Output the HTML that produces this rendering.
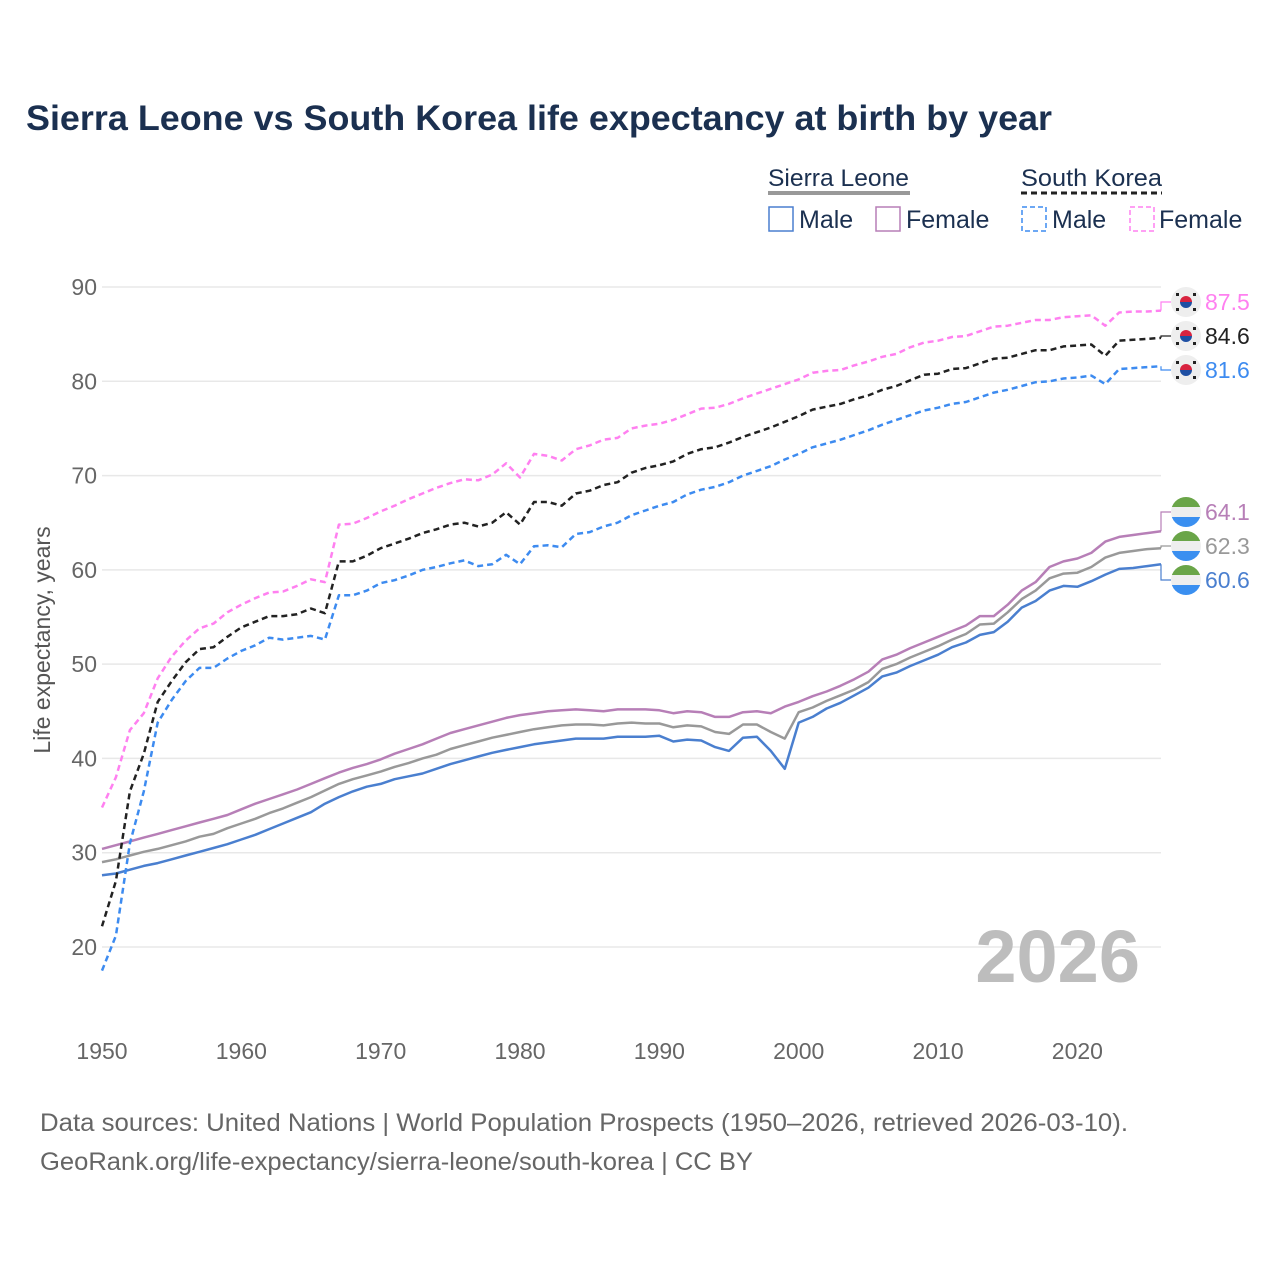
<!DOCTYPE html>
<html><head><meta charset="utf-8">
<style>
body{margin:0;background:#fff;}
svg text{font-family:"Liberation Sans",sans-serif;}
</style></head>
<body>
<svg id="chart" width="1280" height="1280" viewBox="0 0 1280 1280" xmlns="http://www.w3.org/2000/svg">
<text x="26" y="130" font-size="35.5" font-weight="bold" fill="#1b3050" textLength="1026" lengthAdjust="spacingAndGlyphs">Sierra Leone vs South Korea life expectancy at birth by year</text>
<g>
<text x="768" y="186" font-size="24" fill="#1b3050" textLength="141" lengthAdjust="spacingAndGlyphs">Sierra Leone</text>
<line x1="768" y1="193" x2="910" y2="193" stroke="#999" stroke-width="4"/>
<text x="1021" y="186" font-size="24" fill="#1b3050" textLength="141" lengthAdjust="spacingAndGlyphs">South Korea</text>
<line x1="1021" y1="193" x2="1162" y2="193" stroke="#222" stroke-width="3" stroke-dasharray="6,4"/>
<rect x="769" y="207" width="24" height="24" fill="none" stroke="#4a7fcf" stroke-width="1.5"/>
<text x="799" y="228" font-size="25" fill="#1b3050">Male</text>
<rect x="876" y="207" width="24" height="24" fill="none" stroke="#b77fb7" stroke-width="1.5"/>
<text x="906" y="228" font-size="25" fill="#1b3050">Female</text>
<rect x="1022" y="207" width="24" height="24" fill="none" stroke="#3d8bf0" stroke-width="1.5" stroke-dasharray="5,3"/>
<text x="1052" y="228" font-size="25" fill="#1b3050">Male</text>
<rect x="1130" y="207" width="24" height="24" fill="none" stroke="#ff80f0" stroke-width="1.5" stroke-dasharray="5,3"/>
<text x="1159" y="228" font-size="25" fill="#1b3050">Female</text>
</g>
<g id="grid"></g>
<g id="axes"></g>
<text x="1140" y="982" font-size="74" font-weight="bold" fill="#bdbdbd" text-anchor="end">2026</text>
<g id="series"></g>
<g id="labels"></g>
<text transform="translate(50,640) rotate(-90)" font-size="23" fill="#555" text-anchor="middle">Life expectancy, years</text>
<text x="40" y="1131" font-size="25" fill="#666" textLength="1088" lengthAdjust="spacingAndGlyphs">Data sources: United Nations | World Population Prospects (1950–2026, retrieved 2026-03-10).</text>
<text x="40" y="1170" font-size="25" fill="#666" textLength="713" lengthAdjust="spacingAndGlyphs">GeoRank.org/life-expectancy/sierra-leone/south-korea | CC BY</text>
</svg>
<script>
const startYear = 1950;
const yTicks = [20,30,40,50,60,70,80,90];
const xTicks = [1950,1960,1970,1980,1990,2000,2010,2020];
const skFemale = [34.8,38,43,44.8,48.5,50.8,52.5,53.8,54.3,55.5,56.3,57,57.6,57.7,58.3,59,58.7,64.8,64.9,65.5,66.2,66.8,67.5,68.1,68.7,69.2,69.6,69.5,70.1,71.3,69.8,72.3,72.1,71.6,72.8,73.2,73.8,74.0,75.0,75.3,75.5,75.9,76.5,77.1,77.2,77.6,78.2,78.7,79.2,79.7,80.2,80.9,81.1,81.2,81.7,82.1,82.6,82.9,83.6,84.1,84.3,84.7,84.8,85.3,85.8,85.9,86.2,86.5,86.5,86.8,86.9,87.0,85.9,87.3,87.4,87.4,87.5];
const skTotal = [22.2,27,36.5,40.5,46,48.2,50.2,51.6,51.8,52.9,53.9,54.5,55.1,55.1,55.3,55.9,55.4,60.9,60.9,61.5,62.3,62.8,63.3,63.9,64.3,64.8,65.0,64.6,65.0,66.1,64.8,67.2,67.2,66.8,68.1,68.4,69.0,69.3,70.3,70.8,71.1,71.5,72.3,72.8,73.0,73.5,74.1,74.6,75.1,75.7,76.3,77.0,77.3,77.6,78.1,78.5,79.1,79.5,80.1,80.7,80.8,81.3,81.4,81.9,82.4,82.5,82.9,83.3,83.3,83.7,83.8,83.9,82.7,84.3,84.4,84.5,84.6];
const skMale = [17.5,21.2,31,36.5,43.8,46.2,48.2,49.6,49.6,50.6,51.4,52.0,52.8,52.6,52.8,53.0,52.6,57.3,57.3,57.8,58.6,58.9,59.4,60.0,60.3,60.7,61.0,60.4,60.6,61.6,60.6,62.5,62.6,62.4,63.8,64.0,64.6,65.0,65.8,66.3,66.8,67.2,68.0,68.5,68.8,69.3,70.0,70.5,71.0,71.7,72.3,73.0,73.4,73.8,74.3,74.8,75.4,75.9,76.4,76.9,77.2,77.6,77.8,78.3,78.8,79.1,79.5,79.9,80.0,80.3,80.4,80.6,79.7,81.3,81.4,81.5,81.6];
const slFemale = [30.4,30.8,31.2,31.6,32.0,32.4,32.8,33.2,33.6,34.0,34.6,35.2,35.7,36.2,36.7,37.3,37.9,38.5,39.0,39.4,39.9,40.5,41.0,41.5,42.1,42.7,43.1,43.5,43.9,44.3,44.6,44.8,45.0,45.1,45.2,45.1,45.0,45.2,45.2,45.2,45.1,44.8,45.0,44.9,44.4,44.4,44.9,45.0,44.8,45.5,46.0,46.6,47.1,47.7,48.4,49.2,50.5,51.0,51.7,52.3,52.9,53.5,54.1,55.1,55.1,56.3,57.8,58.7,60.3,60.9,61.2,61.8,63.0,63.5,63.7,63.9,64.1];
const slTotal = [29.0,29.3,29.7,30.1,30.4,30.8,31.2,31.7,32.0,32.6,33.1,33.6,34.2,34.7,35.3,35.9,36.6,37.3,37.8,38.2,38.6,39.1,39.5,40.0,40.4,41.0,41.4,41.8,42.2,42.5,42.8,43.1,43.3,43.5,43.6,43.6,43.5,43.7,43.8,43.7,43.7,43.3,43.5,43.4,42.8,42.6,43.6,43.6,42.8,42.1,44.9,45.4,46.1,46.7,47.3,48.1,49.5,50.0,50.7,51.3,51.9,52.6,53.2,54.2,54.3,55.5,56.9,57.8,59.1,59.6,59.7,60.3,61.3,61.8,62.0,62.2,62.3];
const slMale = [27.6,27.8,28.2,28.6,28.9,29.3,29.7,30.1,30.5,30.9,31.4,31.9,32.5,33.1,33.7,34.3,35.2,35.9,36.5,37.0,37.3,37.8,38.1,38.4,38.9,39.4,39.8,40.2,40.6,40.9,41.2,41.5,41.7,41.9,42.1,42.1,42.1,42.3,42.3,42.3,42.4,41.8,42.0,41.9,41.2,40.8,42.2,42.3,40.8,38.9,43.8,44.4,45.3,45.9,46.7,47.5,48.7,49.1,49.8,50.4,51.0,51.8,52.3,53.1,53.4,54.5,56.0,56.7,57.8,58.3,58.2,58.8,59.5,60.1,60.2,60.4,60.6];

const NS="http://www.w3.org/2000/svg";
const X0=102, X1=1161, Y20=947, Y90=287;
const xs = yr => X0 + (yr-1950)*(X1-X0)/76;
const ys = v => Y20 - (v-20)*(Y20-Y90)/70;
function mk(tag, attrs, parent){const e=document.createElementNS(NS,tag);for(const k in attrs)e.setAttribute(k,attrs[k]);parent.appendChild(e);return e;}
const grid=document.getElementById('grid'), axes=document.getElementById('axes');
yTicks.forEach(t=>{
  const l=mk('line',{x1:102,x2:1161,y1:ys(t),y2:ys(t),stroke:'#e8e8e8','stroke-width':1.5},grid);
  
  
  const tx=mk('text',{x:97,y:ys(t)+8,'font-size':23,fill:'#666','text-anchor':'end'},axes);
  tx.textContent=t;
  
  
});
xTicks.forEach(t=>{
  const tx=mk('text',{x:xs(t),y:1059,'font-size':23,fill:'#666','text-anchor':'middle'},axes);
  tx.textContent=t;
  
  
});
const series=document.getElementById('series'), labels=document.getElementById('labels');
const defs=[
 {d:slMale,c:'#4a7fcf',dash:null,name:'sl-male',ly:580,flag:'sl'},
 {d:slTotal,c:'#999',dash:null,name:'sl-total',ly:546,flag:'sl'},
 {d:slFemale,c:'#b77fb7',dash:null,name:'sl-female',ly:512,flag:'sl'},
 {d:skMale,c:'#3d8bf0',dash:'6,4',name:'sk-male',ly:370,flag:'sk'},
 {d:skTotal,c:'#222',dash:'6,4',name:'sk-total',ly:336,flag:'sk'},
 {d:skFemale,c:'#ff80f0',dash:'6,4',name:'sk-female',ly:302,flag:'sk'}
];
defs.forEach(s=>{
  const pts=s.d.map((v,i)=>xs(startYear+i).toFixed(1)+','+ys(v).toFixed(1)).join(' ');
  const a={points:pts,fill:'none',stroke:s.c,'stroke-width':2.5,'stroke-linejoin':'round'};
  if(s.dash)a['stroke-dasharray']=s.dash;
  const p=mk('polyline',a,series);
  
  
  const last=s.d[s.d.length-1], ey=ys(last);
  const c=mk('polyline',{points:`1161,${ey} 1161,${s.ly} 1171,${s.ly}`,fill:'none',stroke:s.c,'stroke-width':1.2},labels);
  
  
  const g=mk('g',{},labels);
  
  
  if(s.flag==='sl'){
    const cp=mk('clipPath',{id:'cp'+s.name},g);
    mk('circle',{cx:1186,cy:s.ly,r:15},cp);
    const gg=mk('g',{'clip-path':`url(#cp${s.name})`},g);
    mk('rect',{x:1170,y:s.ly-15,width:32,height:10,fill:'#6aa548'},gg);
    mk('rect',{x:1170,y:s.ly-5,width:32,height:10,fill:'#eee'},gg);
    mk('rect',{x:1170,y:s.ly+5,width:32,height:10,fill:'#3a8ff0'},gg);
  } else {
    mk('circle',{cx:1186,cy:s.ly,r:15,fill:'#eee'},g);
    mk('path',{d:`M1180,${s.ly} a6,6 0 0 1 12,0 z`,fill:'#d8233f'},g);
    mk('path',{d:`M1180,${s.ly} a6,6 0 0 0 12,0 z`,fill:'#1e4fa3'},g);
    [[-10,-9],[7,-9],[-10,6],[7,6]].forEach(o=>mk('rect',{x:1186+o[0],y:s.ly+o[1],width:3,height:3,fill:'#222'},g));
  }
  const t=mk('text',{x:1205,y:s.ly+8,'font-size':23,fill:s.c},labels);
  t.textContent=last.toFixed(1);
  
  
});
</script>
</body></html>
